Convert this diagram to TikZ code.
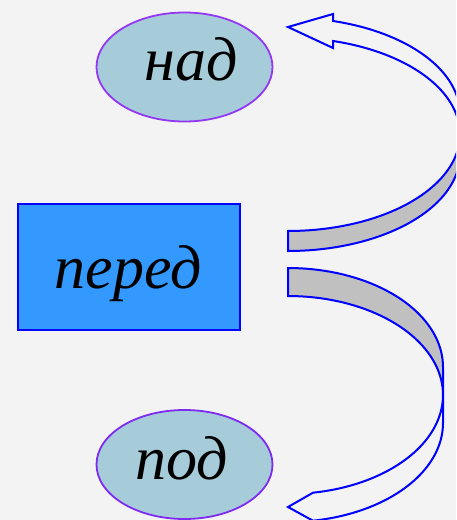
\documentclass[tikz,border=0pt]{standalone}
\usepackage{fontspec}
\setmainfont{Liberation Serif}
\usetikzlibrary{shapes.geometric}
\definecolor{bg}{HTML}{F3F3F3}
\definecolor{ellfill}{HTML}{A6CCDA}
\definecolor{ellline}{HTML}{9338F2}
\definecolor{ellline2}{HTML}{7F2AF0}
\definecolor{boxfill}{HTML}{3399FF}
\definecolor{arrline}{HTML}{0000FF}
\definecolor{backfill}{HTML}{C0C0C0}
\begin{document}
\begin{tikzpicture}[x=1pt,y=-1pt,
  oval/.style={ellipse, draw=ellline, line width=1.8pt, fill=ellfill, minimum width=176pt, minimum height=109pt, inner sep=0pt},
  wordbox/.style={draw=arrline, line width=2.2pt, fill=boxfill, minimum width=222pt, minimum height=126pt, inner sep=0pt},
  word/.style={anchor=base, font=\fontsize{62}{70}\selectfont\itshape, inner sep=0pt},
  band/.style={draw=arrline, line width=2pt, line join=miter},
]
\fill[bg] (0,0) rectangle (456,520);
\useasboundingbox (0,0) rectangle (456,520);
\clip (0,0) rectangle (456,520);

\node[oval] (nadoval) at (184.5,67) {};
\node[word] (nad) at (191,80) {над};
\node[wordbox] (peredbox) at (129,267) {};
\node[word] (pered) at (128,288) {перед};
\node[oval, draw=ellline2] (podoval) at (184.5,464.5) {};
\node[word] (pod) at (182,479) {под};

% upper curved arrow: back (grey) part
\filldraw[band, fill=backfill]
  plot[domain=90:0, samples=40] ({288+172*cos(\x)},{134.3+96.7*sin(\x)})
  -- plot[domain=0:90, samples=40] ({288+172*cos(\x)},{154.3+96.7*sin(\x)})
  -- cycle;
% upper curved arrow: front part with head
\draw[band]
  plot[domain=0:-74.83, samples=40] ({288+172*cos(\x)},{134.3+96.7*sin(\x)})
  -- (333,48) -- (288,27) -- (333,14)
  -- plot[domain=-74.83:0, samples=40] ({288+172*cos(\x)},{114.3+96.7*sin(\x)})
  -- cycle;

% lower curved arrow: back (grey) part
\filldraw[band, fill=backfill]
  plot[domain=-90:0, samples=40] ({288+155*cos(\x)},{367+99*sin(\x)})
  -- plot[domain=0:-90, samples=40] ({288+155*cos(\x)},{395+99*sin(\x)})
  -- cycle;
% lower curved arrow: front part with head
\draw[band]
  plot[domain=0:80.72, samples=40] ({288+155*cos(\x)},{395+99*sin(\x)})
  -- (288,507)
  -- plot[domain=80.72:0, samples=40] ({288+155*cos(\x)},{423+99*sin(\x)})
  -- cycle;
\end{tikzpicture}
\end{document}
